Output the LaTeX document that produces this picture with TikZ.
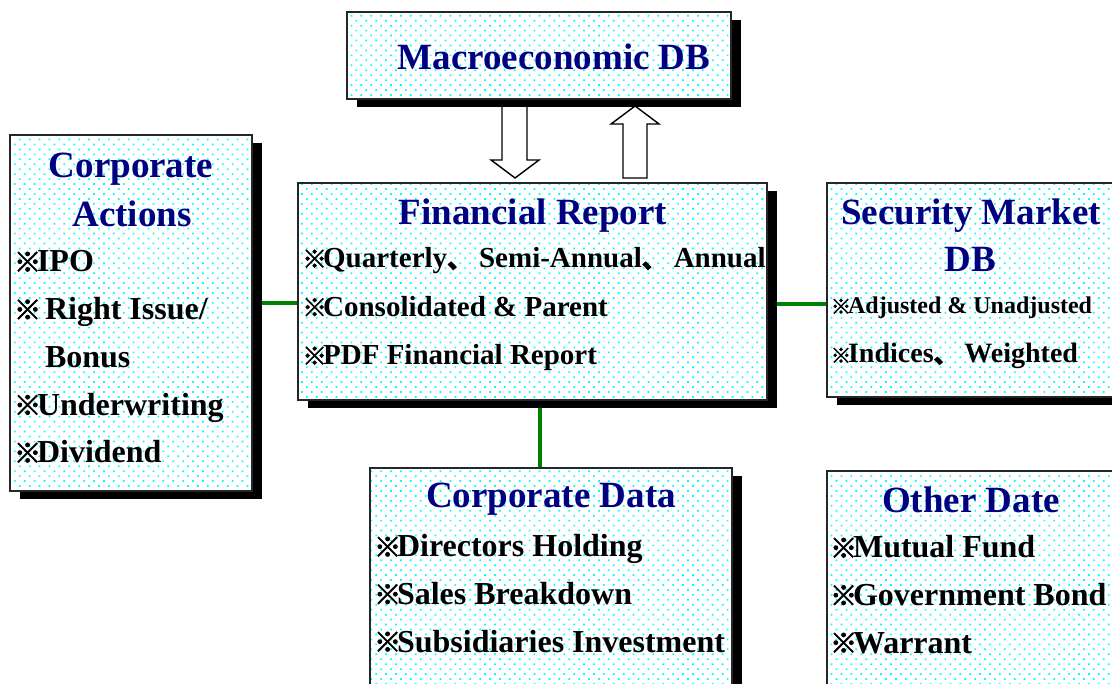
\documentclass[tikz,border=0pt]{standalone}
\usepackage{fontspec}
\setmainfont{Liberation Serif}
\newfontfamily\cjk[Scale=0.85, FakeBold=2.5]{Noto Sans CJK SC}
\usetikzlibrary{shadows,patterns.meta,backgrounds}
\definecolor{navy}{RGB}{0,0,128}
\definecolor{linkgreen}{RGB}{0,128,0}
\newcommand\refmark{\kern-0.1em{\cjk ※}\kern-0.13em}
\newcommand\dun{{\cjk 、}}

\begin{document}
\begin{tikzpicture}[x=1pt,y=-1pt]
\tikzset{dbbox/.style={rectangle, inner sep=0pt, draw=black!85, line width=2pt,
  drop shadow={shadow xshift=10pt, shadow yshift=-8pt, fill=black, opacity=1},
  preaction={fill=white},
  pattern={Dots[distance=7pt, angle=45, radius=1.2pt]}, pattern color=cyan}}
\tikzset{title/.style={inner sep=0pt, anchor=base, text=navy, font=\fontsize{37}{37}\selectfont\bfseries}}
\tikzset{item/.style={inner sep=0pt, anchor=base west, font=\fontsize{32}{32}\selectfont\bfseries}}
\tikzset{link/.style={draw=linkgreen, line width=4.5pt}}
\tikzset{hollow/.style={draw=black, line width=1.4pt, fill=white, line join=miter}}

\useasboundingbox (0,0) rectangle (1112,684);
\clip (0,0) rectangle (1112,684);

% boxes
\node[dbbox, minimum width=384pt, minimum height=87pt]  (macro)    at (539,55.5)   {};
\node[dbbox, minimum width=242pt, minimum height=356pt] (corpact)  at (131,313)    {};
\node[dbbox, minimum width=469pt, minimum height=217pt] (finrep)   at (532.5,291.5) {};
\node[dbbox, minimum width=308pt, minimum height=214pt] (secmkt)   at (981,290)    {};
\node[dbbox, minimum width=362pt, minimum height=242pt] (corpdata) at (551,589)    {};
\node[dbbox, minimum width=308pt, minimum height=239pt] (other)    at (981,590.5)  {};

% titles
\node[title] (macrot) at (554,70)  {Macroeconomic DB};
\node[title] (cat1)   at (131,178) {Corporate};
\node[title] (cat2)   at (132,227) {Actions};
\node[title] (frt)    at (533,225) {Financial Report};
\node[title] (smt1)   at (971,225) {Security Market};
\node[title] (smt2)   at (970,272) {DB};
\node[title] (cdt)    at (551,508) {Corporate Data};
\node[title] (odt)    at (971,513) {Other Date};

% items
\foreach \t [count=\i] in {{\refmark IPO},{\refmark\ Right Issue/},{\phantom{\refmark\ }Bonus},{\refmark Underwriting},{\refmark Dividend}}
  \node[item] (ca\i) at (17,{272+47.75*(\i-1)}) {\t};
\foreach \t [count=\i] in {{\refmark Quarterly\dun\ Semi-Annual\dun\ Annual},{\refmark Consolidated \& Parent},{\refmark PDF Financial Report}}
  \node[item, font=\fontsize{29}{29}\selectfont\bfseries] (fr\i) at (305,{268+48.5*(\i-1)}) {\t};
\node[item, font=\fontsize{24}{24}\selectfont\bfseries] (sm1) at (833,314) {\refmark Adjusted \& Unadjusted};
\node[item, font=\fontsize{28}{28}\selectfont\bfseries] (sm2) at (833,363) {{\fontsize{24}{24}\selectfont\refmark}Indices\dun\ Weighted};
\foreach \t [count=\i] in {{\refmark Directors Holding},{\refmark Sales Breakdown},{\refmark Subsidiaries Investment}}
  \node[item] (cd\i) at (377,{557+47.5*(\i-1)}) {\t};
\foreach \t [count=\i] in {{\refmark Mutual Fund},{\refmark Government Bond},{\refmark Warrant}}
  \node[item] (od\i) at (833,{558+47.5*(\i-1)}) {\t};

\begin{scope}[on background layer]
\fill[white] (0,0) rectangle (1112,684);
% links
\coordinate (lkl) at (280,303);
\draw[link] (lkl -| corpact.east) -- (lkl -| finrep.west);
\coordinate (lkr) at (800,304);
\draw[link] (lkr -| finrep.east) -- (lkr -| secmkt.west);
\coordinate (lkd) at (540,430);
\draw[link] (lkd |- finrep.south) -- (lkd |- corpdata.north);
% data flow arrows
\draw[hollow] (502,100) -- (527,100) -- (527,160) -- (539,160) -- (515,178)
  -- (491,160) -- (502,160) -- cycle;
\draw[hollow] (623,178) -- (647,178) -- (647,124) -- (659,124) -- (635,106)
  -- (611,124) -- (623,124) -- cycle;
\end{scope}
\end{tikzpicture}
\end{document}
